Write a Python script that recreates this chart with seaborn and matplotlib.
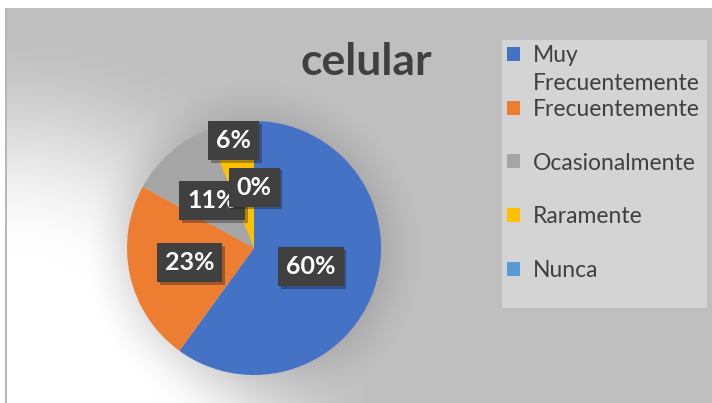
import numpy as np
import matplotlib.pyplot as plt
import matplotlib.patheffects as pe
import seaborn as sns
from matplotlib.patches import Rectangle

# datos del grafico
categorias = ['Muy Frecuentemente', 'Frecuentemente', 'Ocasionalmente', 'Raramente', 'Nunca']
porcentajes = [60, 23, 11, 6, 0]
colores = ['#4472C4', '#ED7D31', '#A5A5A5', '#FFC000', '#5B9BD5']
titulo = 'celular'

# distancia de cada etiqueta al centro (fraccion del radio)
dist_etiquetas = [0.47, 0.52, 0.50, 0.86, 0.48]

sns.set_style('white')
plt.rcParams['font.family'] = ['Lato', 'DejaVu Sans']
palette = sns.color_palette(colores)

W, H = 712, 403
fig = plt.figure(figsize=(W / 100, H / 100), dpi=100)
fig.patch.set_facecolor('white')

# fondo: degradado radial claro abajo a la izquierda + sombra suave del pastel
yy, xx = np.mgrid[0:H, 0:W]
gris = 0.75
d1 = np.hypot(xx - 0, yy - 403)
luz = np.clip((380 - d1) / 230, 0, 1)
luz = luz * luz * (3 - 2 * luz)
brillo = gris + (1 - gris) * luz
d2 = np.hypot(xx - 254, yy - 250)
sombra = np.clip(1 - (d2 - 125) / 45, 0, 1) ** 1.5
brillo = brillo * (1 - 0.11 * sombra)
img = np.dstack([brillo] * 3)
img[:8, :, :] = 1.0
img[:, :6, :] = 1.0
img[8:, 5:7, :] = 0.72
bg = fig.add_axes([0, 0, 1, 1], zorder=0)
bg.imshow(img, extent=(0, W, H, 0), aspect='auto', interpolation='bilinear')
bg.set_xlim(0, W)
bg.set_ylim(H, 0)
bg.axis('off')

# caja de la leyenda
fig.patches.append(Rectangle((502 / W, 1 - 308 / H), 205 / W, 268 / H,
                             transform=fig.transFigure, facecolor='#d4d4d4',
                             edgecolor='none', zorder=1))

# pastel
ax = fig.add_axes([127 / W, 28 / H, 254 / W, 254 / H], zorder=2)
wedges, _ = ax.pie(porcentajes, colors=palette, startangle=90, counterclock=False,
                   wedgeprops=dict(linewidth=0))
ax.set_xlim(-1, 1)
ax.set_ylim(-1, 1)

for w, v, r in zip(wedges, porcentajes, dist_etiquetas):
    ang = np.deg2rad((w.theta1 + w.theta2) / 2)
    t = ax.text(r * np.cos(ang), r * np.sin(ang), f'{v}%', ha='center', va='center',
                color='white', fontsize=18, fontweight='bold',
                bbox=dict(boxstyle='square,pad=0.32', fc='#404040', ec='none'))
    t.get_bbox_patch().set_path_effects([
        pe.SimplePatchShadow(offset=(2, -2), alpha=0.35), pe.Normal()])

fig.text(366 / W, 1 - 62 / H, titulo, ha='center', va='center', fontsize=32,
         fontweight='bold', color='#404040', zorder=3)

# leyenda: la primera etiqueta se parte en dos lineas como en Excel
primera, resto = categorias[0].split(' ', 1)
etiquetas_ley = [primera] + categorias[1:]
leg = ax.legend(wedges, etiquetas_ley, loc='upper left',
                bbox_to_anchor=(507 / W, 1 - 45 / H), bbox_transform=fig.transFigure,
                frameon=False, fontsize=16.5, handlelength=0.57, handleheight=0.57,
                handletextpad=0.57, labelspacing=1.43, borderpad=0, borderaxespad=0)
for t in leg.get_texts():
    t.set_color('#404040')
ax.annotate(resto, xy=(0, 0), xycoords=leg.get_texts()[0], xytext=(0, -20),
            textcoords='offset points', ha='left', va='bottom',
            fontsize=16.5, color='#404040', annotation_clip=False, zorder=10)

fig.savefig('out.png', dpi=100)
